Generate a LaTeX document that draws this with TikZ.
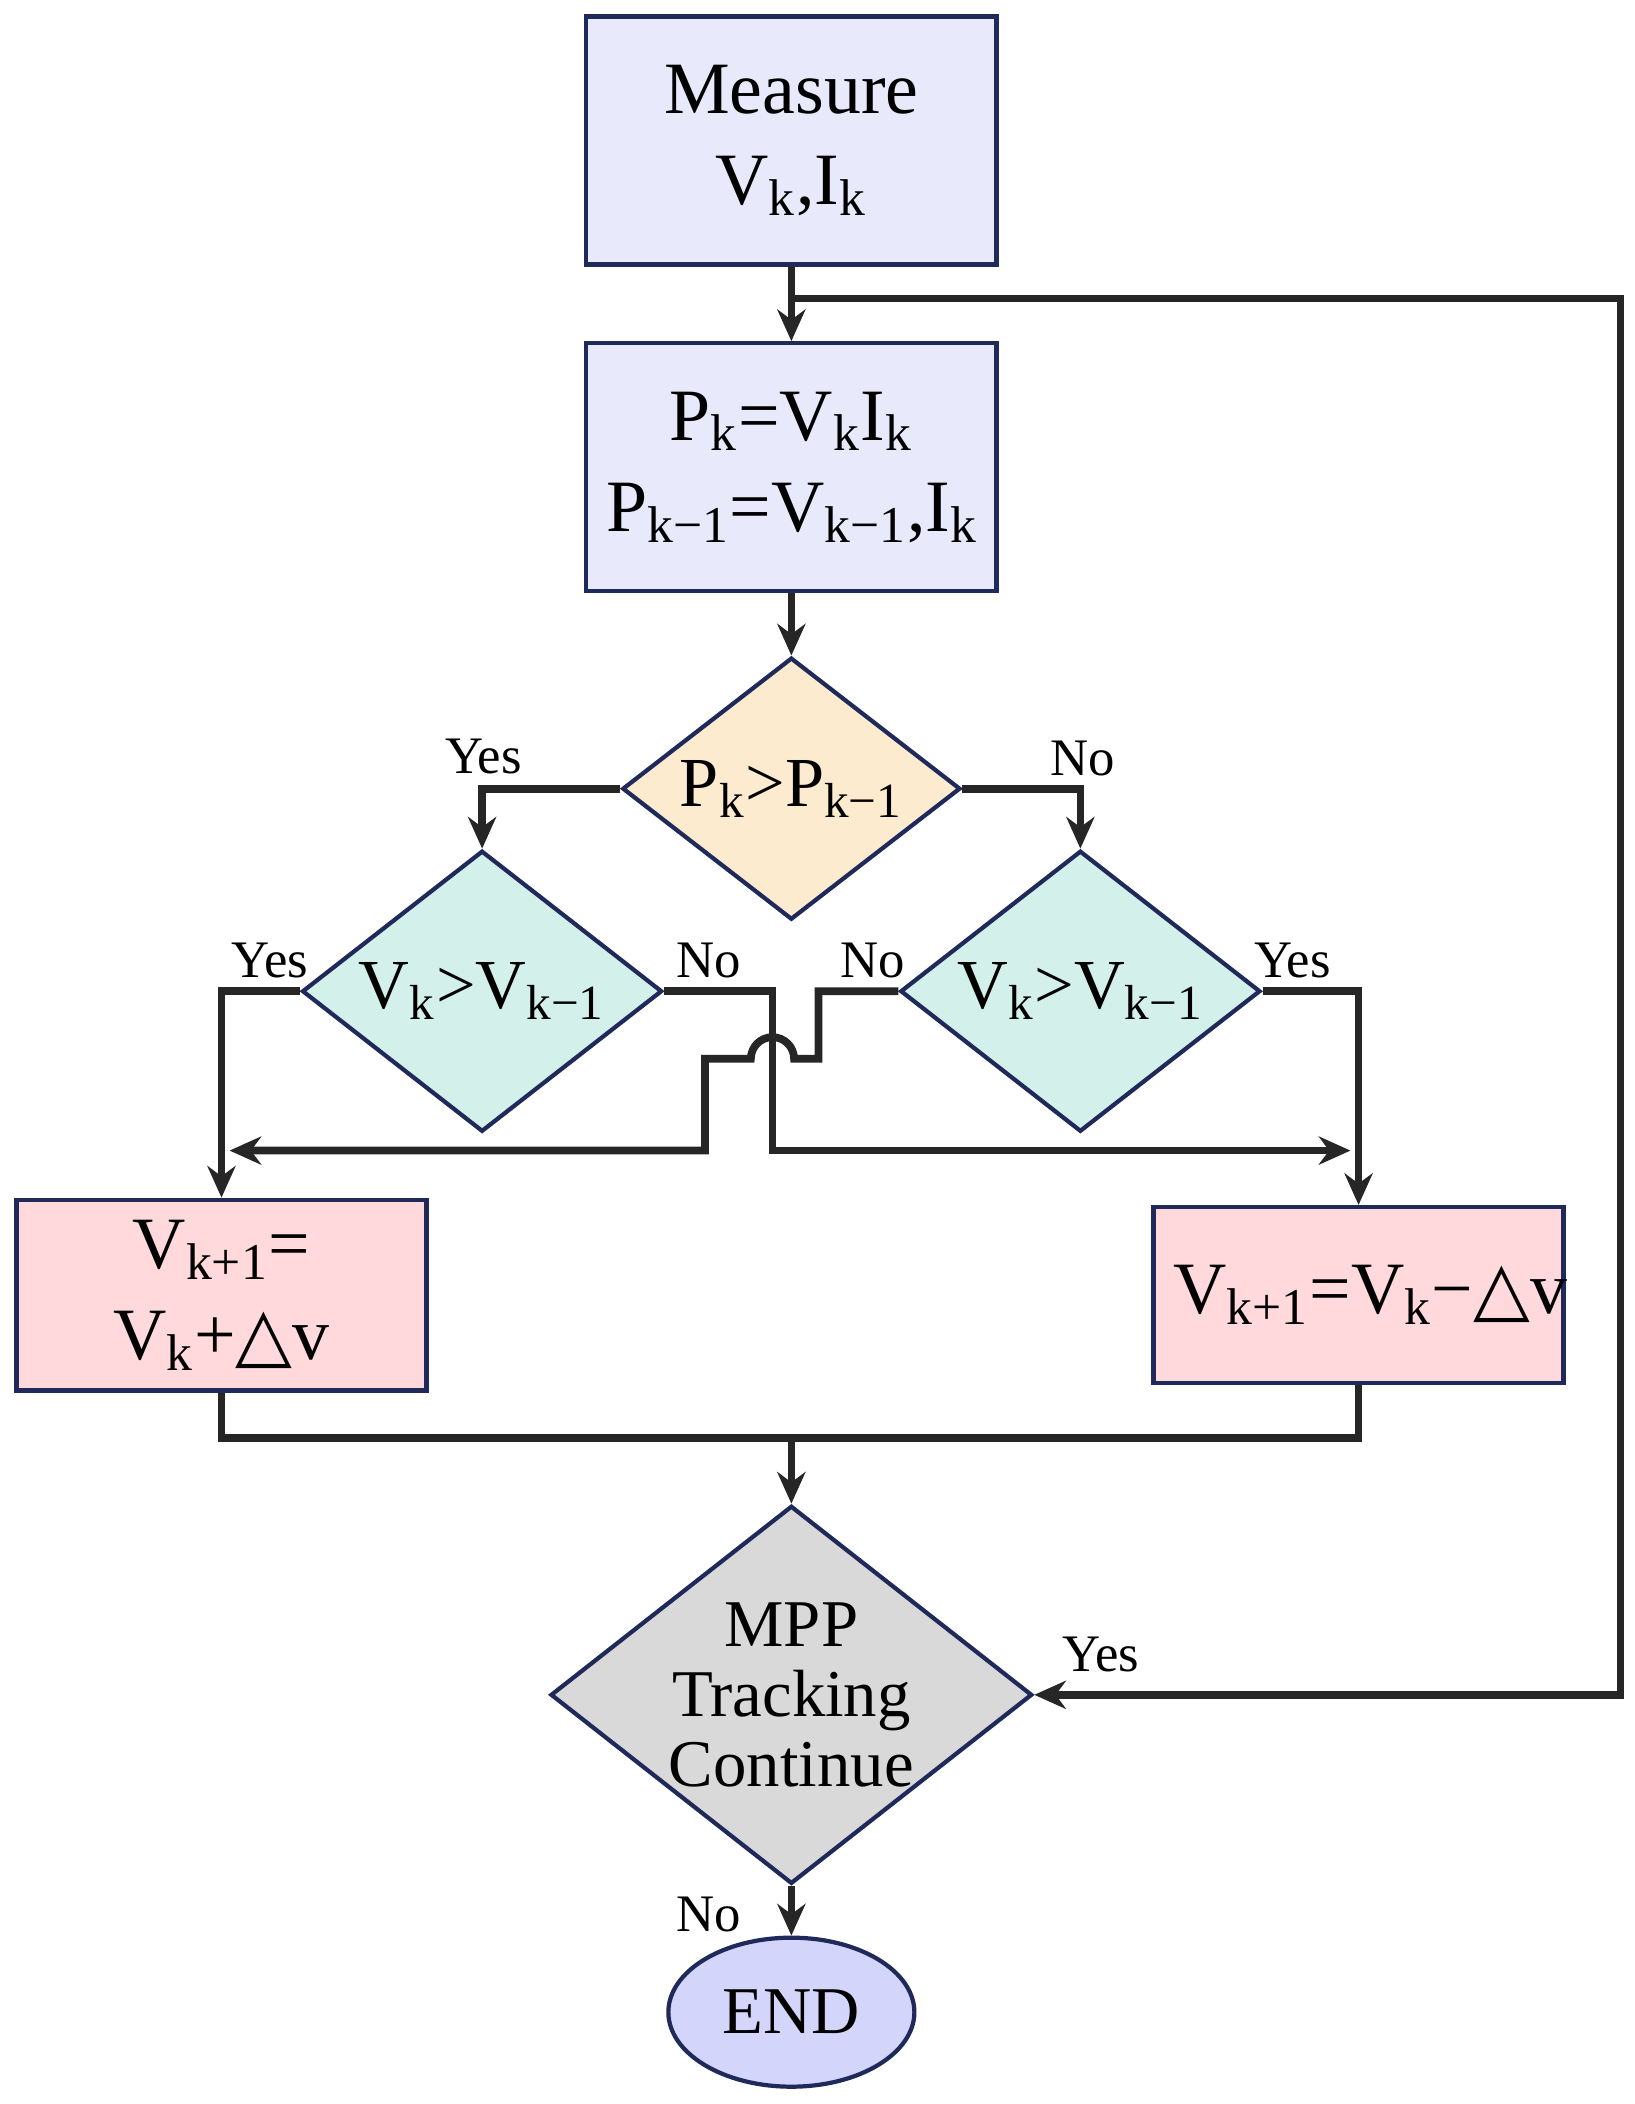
\documentclass[tikz,border=0pt]{standalone}
\usepackage{fontspec}
\setmainfont{Liberation Serif}
\newfontfamily\symfont{DejaVu Serif}
\usetikzlibrary{shapes.geometric,arrows.meta}
\definecolor{edge}{HTML}{1F2A5A}
\definecolor{boxblue}{HTML}{E8EAFC}
\definecolor{boxorange}{HTML}{FDEBD0}
\definecolor{boxteal}{HTML}{D3F0EA}
\definecolor{boxred}{HTML}{FFD9DC}
\definecolor{boxgray}{HTML}{D9D9D9}
\definecolor{endblue}{HTML}{D3D5FA}
\newcommand\sbs[1]{\textsubscript{#1}}
\newcommand\dlt{{\symfont\char"25B3}}
\tikzset{
  blk/.style={draw=edge,line width=1.2pt,text width=3.7cm,inner sep=0.2cm,align=center,font=\fontsize{21}{26}\selectfont},
  dia/.style={draw=edge,line width=1.2pt,diamond,aspect=1.28,inner sep=0pt,font=\fontsize{20}{24}\selectfont},
  lbl/.style={font=\fontsize{15}{18}\selectfont},
  flow/.style={line width=2.2pt,color=black!85},
}
\begin{document}
\begin{tikzpicture}[x=0.0135cm,y=-0.0135cm,>={Stealth[length=9pt,width=8pt]}]
  \useasboundingbox (0,0) rectangle (1210,1558);
  \node[blk,fill=boxblue,minimum height=2.48cm] (meas) at (586,104) {Measure\\V\sbs{k},I\sbs{k}};
  \node[blk,fill=boxblue,minimum height=2.48cm] (pow) at (586,346) {P\sbs{k}=V\sbs{k}I\sbs{k}\\P\sbs{k−1}=V\sbs{k−1},I\sbs{k}};
  \node[dia,fill=boxorange,minimum width=3.38cm,minimum height=2.62cm] (cp) at (586,584) {P\sbs{k}>P\sbs{k−1}};
  \node[dia,fill=boxteal,minimum width=3.6cm,minimum height=2.81cm] (cvl) at (357,734) {V\sbs{k}>V\sbs{k−1}};
  \node[dia,fill=boxteal,minimum width=3.6cm,minimum height=2.81cm] (cvr) at (800,734) {V\sbs{k}>V\sbs{k−1}};
  \node[blk,fill=boxred,minimum height=1.76cm] (inc) at (164,959) {V\sbs{k+1}= V\sbs{k}+\dlt v};
  \node[blk,fill=boxred,minimum height=1.76cm] (dec) at (1006,959) {V\sbs{k+1}=V\sbs{k}−\dlt v};
  \node[dia,fill=boxgray,minimum width=4.67cm,minimum height=3.78cm,align=center,font=\fontsize{19}{20}\selectfont] (cont) at (586,1255) {MPP\\Tracking\\Continue};
  \node[ellipse,draw=edge,line width=1.2pt,fill=endblue,minimum width=2.46cm,minimum height=1.49cm,font=\fontsize{19}{24}\selectfont] (fin) at (586,1490) {END};
  \coordinate (loop) at (586,221);
  \coordinate (mrg) at (586,1065);
  \coordinate (hop) at (588,784);
  % connectors
  \draw[flow,->] (meas) -- (pow);
  \draw[flow,->] (pow) -- (cp);
  \draw[flow,->] (cp.west) -| (cvl.north);
  \draw[flow,->] (cp.east) -| (cvr.north);
  \draw[flow,->] (cvl.west) -| (inc.north);
  \draw[flow,->] (cvr.east) -| (dec.north);
  \draw[flow,->] (cvl.east) -- (572,734) -- (572,852) -- (1000,852);
  \draw[flow,->] (cvr.west) -- (606,734) -- (606,784) -- (hop) arc (0:-180:16) -- (522,784) -- (522,852) -- (170,852);
  \draw[flow] (inc.south) |- (mrg) -| (dec.south);
  \draw[flow,->] (mrg) -- (cont.north);
  \draw[flow,->] (cont.south) -- (fin);
  \draw[flow,->] (loop) -- (1200,221) |- (cont.east);
  % labels
  \node[lbl] (y1) at (358,560) {Yes};
  \node[lbl] (n1) at (802,562) {No};
  \node[lbl] (y2) at (200,711) {Yes};
  \node[lbl] (n2) at (525,711) {No};
  \node[lbl] (n3) at (646,711) {No};
  \node[lbl] (y3) at (957,711) {Yes};
  \node[lbl] (y4) at (815,1225) {Yes};
  \node[lbl] (n4) at (525,1418) {No};
\end{tikzpicture}
\end{document}
